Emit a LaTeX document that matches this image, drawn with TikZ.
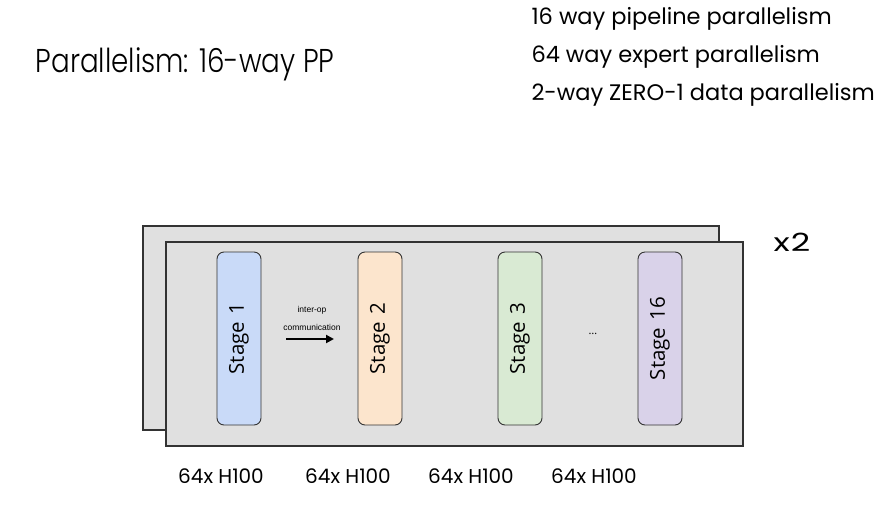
\documentclass[tikz,border=0pt]{standalone}
\usepackage{fontspec}
\setmainfont{Poppins}
\newfontfamily\titlefont{Poppins}[UprightFont=* Light, FakeStretch=0.84]
\newfontfamily\widefont{Poppins}[FakeStretch=1.35]
\newfontfamily\stagefont{Open Sans}
\newfontfamily\smallfont{Liberation Sans}
\usetikzlibrary{arrows.meta}
\definecolor{panelgray}{HTML}{E0E0E0}
\definecolor{edgegray}{HTML}{333333}
\definecolor{sblue}{HTML}{C9DAF8}
\definecolor{sorange}{HTML}{FCE5CD}
\definecolor{sgreen}{HTML}{D9EAD3}
\definecolor{spurple}{HTML}{D9D2E9}
\newcommand{\stagelabel}[1]{\rotatebox{90}{Stage\ \kern2pt#1}}
\tikzset{
  panel/.style={draw=edgegray, fill=panelgray, line width=1.2pt},
  stagebox/.style={draw=edgegray, line width=0.9pt, rounded corners=7pt,
    minimum width=44pt, minimum height=173pt, inner sep=0pt,
    font=\stagefont\fontsize{20.5}{21}\selectfont},
  gpu/.style={font=\fontsize{20}{20}\selectfont, anchor=center},
  listitem/.style={font=\fontsize{22.5}{23}\selectfont, anchor=west},
}
\begin{document}
\begin{tikzpicture}[x=1pt,y=-1pt]
\useasboundingbox (0,0) rectangle (881,504);
\fill[white] (0,0) rectangle (881,504);

% heading and list of parallelism dimensions
\node[anchor=center, font=\titlefont\fontsize{33}{33}\selectfont] (title) at (185,64) {Parallelism: 16-way PP};
\node[listitem] (l1) at (528,19) {16 way pipeline parallelism};
\node[listitem] (l2) at (528,57) {64 way expert parallelism};
\node[listitem] (l3) at (528,95) {2-way ZERO-1 data parallelism};

% stacked pipeline replicas
\draw[panel] (143,226) rectangle (719,430);
\draw[panel] (166,242) rectangle (743,446);
\node[font=\widefont\fontsize{25}{25}\selectfont] (rep) at (792,242) {x\kern1pt2};

% pipeline stages
\node[stagebox, fill=sblue]   (s1)  at (239,338.5) {\stagelabel{1}};
\node[stagebox, fill=sorange] (s2)  at (380,338.5) {\stagelabel{2}};
\node[stagebox, fill=sgreen]  (s3)  at (520,338.5) {\stagelabel{3}};
\node[stagebox, fill=spurple] (s16) at (660,338.5) {\stagelabel{16}};
\node[font=\stagefont\fontsize{11}{11}\selectfont] (dots) at (593,334) {\dots};

% inter-stage communication arrow
\coordinate (a0) at (286,339);
\coordinate (a1) at (334,339);
\draw[line width=2.6pt, -{Triangle[length=8pt,width=8pt]}] (a0) -- (a1);
\node[font=\smallfont\fontsize{8.5}{8.5}\selectfont] (lab1) at (312,310) {inter-op};
\node[font=\smallfont\fontsize{8.5}{8.5}\selectfont] (lab2) at (312,327) {communication};

% GPU counts
\node[gpu] (g1) at (221,476) {64x H100};
\node[gpu] (g2) at (348,476) {64x H100};
\node[gpu] (g3) at (471,476) {64x H100};
\node[gpu] (g4) at (594,476) {64x H100};
\end{tikzpicture}
\end{document}
